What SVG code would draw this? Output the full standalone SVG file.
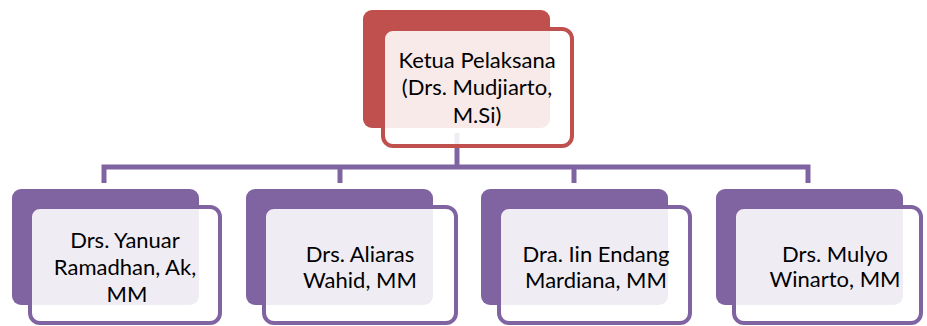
<svg xmlns="http://www.w3.org/2000/svg" width="927" height="326" viewBox="0 0 927 326">
  <style>
    .back-red { fill: #C0504D; }
    .front-red { fill: #FFFFFF; fill-opacity: 0.88; stroke: #C0504D; stroke-width: 4; }
    .back-purple { fill: #8064A2; }
    .front-purple { fill: #FFFFFF; fill-opacity: 0.88; stroke: #8064A2; stroke-width: 4; }
    .link { fill: none; stroke: #8064A2; stroke-width: 5; }
    text { font-family: Lato, "Noto Sans", "Liberation Sans", sans-serif; font-size: 22px; fill: #000000; text-anchor: middle; }
  </style>

  <!-- connectors -->
  <g id="connectors">
    <line class="link" x1="457" y1="133" x2="457" y2="167"/>
    <path class="link" d="M104,183 V167 H808 V183"/>
    <line class="link" x1="340" y1="167" x2="340" y2="183"/>
    <line class="link" x1="574" y1="167" x2="574" y2="183"/>
  </g>

  <!-- head -->
  <g id="node-ketua">
    <rect class="back-red" x="363" y="10" width="187" height="118" rx="9"/>
    <rect class="front-red" x="383" y="29" width="189" height="117" rx="10"/>
    <text x="477" y="68">Ketua Pelaksana</text>
    <text x="477" y="95">(Drs. Mudjiarto,</text>
    <text x="477" y="123">M.Si)</text>
  </g>

  <g id="node-yanuar">
    <rect class="back-purple" x="12" y="189" width="187" height="116" rx="9"/>
    <rect class="front-purple" x="30" y="207" width="190" height="116" rx="10"/>
    <text x="125" y="248">Drs. Yanuar</text>
    <text x="125" y="275">Ramadhan, Ak,</text>
    <text x="127" y="302">MM</text>
  </g>

  <g id="node-aliaras">
    <rect class="back-purple" x="246" y="189" width="187" height="116" rx="9"/>
    <rect class="front-purple" x="264" y="207" width="192" height="116" rx="10"/>
    <text x="360" y="262">Drs. Aliaras</text>
    <text x="360" y="288">Wahid, MM</text>
  </g>

  <g id="node-iin">
    <rect class="back-purple" x="481" y="189" width="187" height="116" rx="9"/>
    <rect class="front-purple" x="499" y="207" width="191" height="116" rx="10"/>
    <text x="596" y="262">Dra. Iin Endang</text>
    <text x="596" y="288">Mardiana, MM</text>
  </g>

  <g id="node-mulyo">
    <rect class="back-purple" x="716" y="189" width="187" height="116" rx="9"/>
    <rect class="front-purple" x="734" y="207" width="187" height="116" rx="10"/>
    <text x="835" y="262">Drs. Mulyo</text>
    <text x="835" y="287">Winarto, MM</text>
  </g>
</svg>
